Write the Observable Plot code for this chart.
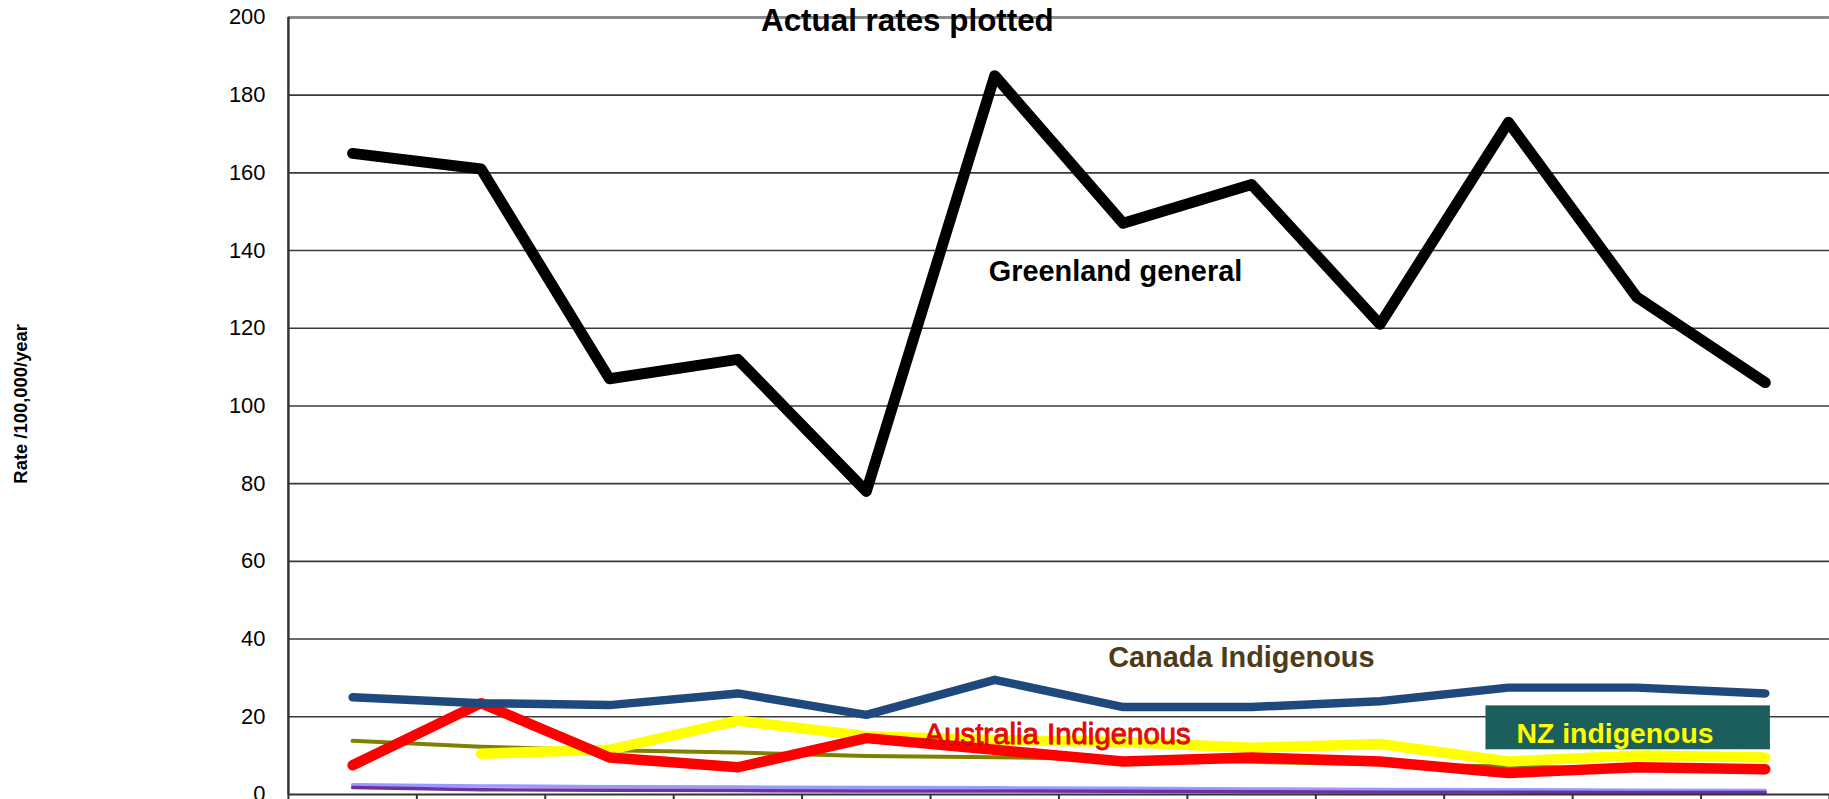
<!DOCTYPE html>
<html>
<head>
<meta charset="utf-8">
<script src="https://cdn.jsdelivr.net/npm/d3@7"></script>
<script src="https://cdn.jsdelivr.net/npm/@observablehq/plot@0.6"></script>
<style>
  html, body { margin: 0; padding: 0; background: #fff; overflow: hidden; }
  #chart { width: 1829px; height: 799px; overflow: hidden; }
</style>
</head>
<body>
<div id="chart"></div>
<script>
// ---- data ----
const periods = [1, 2, 3, 4, 5, 6, 7, 8, 9, 10, 11, 12];
const greenlandGeneral = [165, 161, 107, 112, 78, 185, 147, 157, 121, 173, 128, 106];
const blueSeries = [25, 23.5, 23, 26, 20.5, 29.5, 22.5, 22.5, 24, 27.5, 27.5, 26];
const australiaIndigenous = [7.5, 23.5, 9.5, 7, 14.5, 11.5, 8.5, 9.5, 8.5, 5.5, 7, 6.5];
const nzIndigenous = [null, 10.5, 11.5, 19, 15, 14, 13.5, 12, 13, 8.5, 10, 9.5];
const oliveSeries = [13.8, 12.3, 11.4, 10.8, 9.9, 9.6, 9.0, 8.4, 7.8, 7.2, 6.6, 5.7];
const lavenderSeries = [2.5, 2.2, 2.0, 1.9, 1.8, 1.7, 1.6, 1.4, 1.3, 1.2, 1.1, 1.0];
const purpleSeries = [1.8, 1.2, 1.1, 1.0, 0.9, 0.9, 0.8, 0.7, 0.6, 0.6, 0.5, 0.5];
const yTicks = [0, 20, 40, 60, 80, 100, 120, 140, 160, 180, 200];

const titleText = "Actual rates plotted";
const yLabel = "Rate /100,000/year";

// ---- build tables ----
const series = [
  {name: "lavender", values: lavenderSeries, color: "#9999FF", width: 3.5},
  {name: "purple", values: purpleSeries, color: "#7030A0", width: 3.5},
  {name: "olive", values: oliveSeries, color: "#808000", width: 4},
  {name: "NZ indigenous", values: nzIndigenous, color: "#FFFF00", width: 10.5},
  {name: "Australia Indigenous", values: australiaIndigenous, color: "#FF0000", width: 10.5},
  {name: "blue", values: blueSeries, color: "#1F497D", width: 8.5},
  {name: "Greenland general", values: greenlandGeneral, color: "#000000", width: 11}
];
const rows = s => periods.map((p, i) => ({p, v: s.values[i]}));
const boundaries = periods.map(p => p - 0.5).concat([periods[periods.length - 1] + 0.5]);

const lineMarks = series.map(s => Plot.line(rows(s), {
  x: "p", y: "v", stroke: s.color, strokeWidth: s.width,
  strokeLinejoin: "round", strokeLinecap: "round", curve: "linear"
}));

const chart = Plot.plot({
  width: 1836,
  height: 830,
  marginLeft: 289,
  marginRight: 0,
  marginTop: 17,
  marginBottom: 33,
  style: {fontFamily: "'Liberation Sans', Arial, sans-serif", color: "#000", background: "#fff", overflow: "visible"},
  x: {domain: [boundaries[0], boundaries[boundaries.length - 1]], axis: null},
  y: {domain: [0, 200], axis: null},
  marks: [
    Plot.ruleY(yTicks.filter(t => t > 0 && t < 200), {stroke: "#3a3a3a", strokeWidth: 1.6}),
    Plot.ruleY([200], {stroke: "#8a8a8a", strokeWidth: 3}),
    Plot.axisY({ticks: yTicks, tickSize: 0, tickPadding: 23, fontSize: 22, label: null, tickFormat: d => String(d)}),
    Plot.axisX({ticks: boundaries, tickSize: 8, tickFormat: () => "", label: null, stroke: "#333", strokeWidth: 2}),
    ...lineMarks,
    Plot.ruleX([boundaries[0]], {stroke: "#333", strokeWidth: 2.5}),
    Plot.ruleY([0], {stroke: "#333", strokeWidth: 2}),
    // title (second line of title; first line is cut off above)
    Plot.text([titleText], {x: 5.32, y: 199.2, text: d => d, fontSize: 31.5, fontWeight: "bold", fill: "#000"}),
    // y axis label
    Plot.text([yLabel], {frameAnchor: "left", dx: -268, dy: 78, rotate: -90, text: d => d, fontSize: 18.5, fontWeight: "bold", fill: "#000"}),
    // series labels
    Plot.text(["Greenland general"], {x: 6.94, y: 134.6, text: d => d, fontSize: 29, fontWeight: "bold", fill: "#000"}),
    Plot.text(["Canada Indigenous"], {x: 7.92, y: 35.1, text: d => d, fontSize: 29, fontWeight: "bold", fill: "#4D3B19"}),
    Plot.text(["Australia Indigenous"], {x: 6.49, y: 15.4, text: d => d, fontSize: 29.5, fill: "#FF0000", stroke: "#7a0000", strokeWidth: 0.8, paintOrder: "stroke"}),
    Plot.rect([{x1: 9.825, x2: 12.04, y1: 11.5, y2: 22.8}], {x1: "x1", x2: "x2", y1: "y1", y2: "y2", fill: "#1B5E5B"}),
    Plot.text(["NZ indigenous"], {x: 10.83, y: 15.6, text: d => d, fontSize: 28.5, fontWeight: "bold", fill: "#FFFF00"})
  ]
});
document.getElementById("chart").append(chart);
</script>
</body>
</html>
